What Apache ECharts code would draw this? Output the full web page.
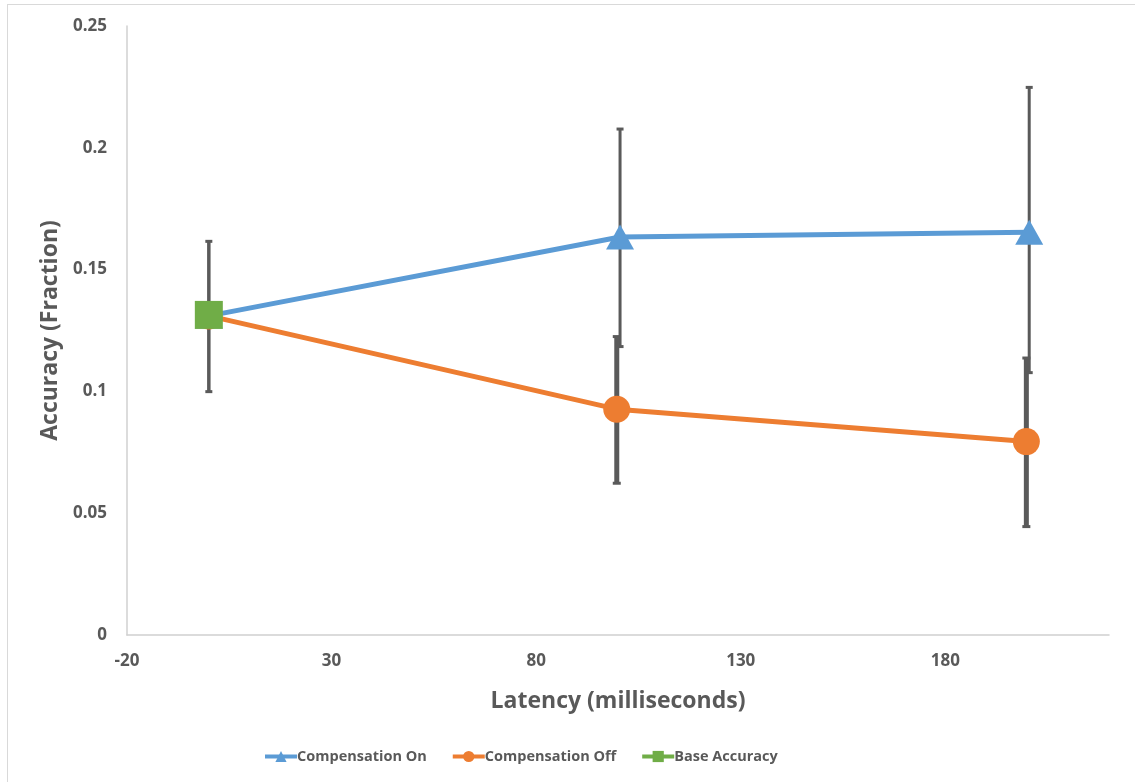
<!DOCTYPE html>
<html>
<head>
<meta charset="utf-8">
<style>
  html, body { margin: 0; padding: 0; background: #fff; }
  #chart { width: 1135px; height: 782px; }
</style>
<script src="https://cdn.jsdelivr.net/npm/echarts@6/dist/echarts.min.js"></script>
</head>
<body>
<div id="chart"></div>
<script>
// ---- data ----
const seriesNames = ['Compensation On', 'Compensation Off', 'Base Accuracy'];
const onX = [0, 100.5, 200.5];
const onY = [0.131, 0.1634, 0.1653];
const onLow = [null, 0.1184, 0.1077];
const onHigh = [null, 0.2077, 0.2248];
const offX = [0, 99.7, 199.8];
const offY = [0.131, 0.0927, 0.0794];
const offLow = [null, 0.0623, 0.0445];
const offHigh = [null, 0.1225, 0.1137];
const baseX = [0];
const baseY = [0.1314];
const baseLow = [0.0999];
const baseHigh = [0.1616];
const xTicks = { min: -20, max: 220, interval: 50 };
const yTicks = { min: 0, max: 0.25, interval: 0.05 };

const FONT = 'Open Sans';
const TXT = '#595959';
const ERR = '#5a5a5a';

function pairs(xs, ys) { return xs.map((x, i) => [x, ys[i]]); }
function errData(xs, lo, hi) {
  const out = [];
  xs.forEach((x, i) => { if (lo[i] != null) out.push([x, lo[i], hi[i]]); });
  return out;
}
function errSeries(data, lw, capW) {
  return {
    type: 'custom',
    silent: true,
    z: 1,
    encode: { x: 0, y: [1, 2] },
    data: data,
    renderItem: function (params, api) {
      const x = api.value(0);
      const lo = api.coord([x, api.value(1)]);
      const hi = api.coord([x, api.value(2)]);
      const st = { stroke: ERR, lineWidth: lw };
      const hw = capW / 2;
      return {
        type: 'group',
        children: [
          { type: 'line', shape: { x1: lo[0], y1: lo[1], x2: hi[0], y2: hi[1] }, style: st },
          { type: 'line', shape: { x1: hi[0] - hw, y1: hi[1], x2: hi[0] + hw, y2: hi[1] }, style: { stroke: ERR, lineWidth: 3 } },
          { type: 'line', shape: { x1: lo[0] - hw, y1: lo[1], x2: lo[0] + hw, y2: lo[1] }, style: { stroke: ERR, lineWidth: 3 } }
        ]
      };
    }
  };
}

const chart = echarts.init(document.getElementById('chart'), null, { renderer: 'canvas' });
chart.setOption({
  animation: false,
  backgroundColor: '#ffffff',
  textStyle: { fontFamily: FONT },
  graphic: [
    { type: 'line', shape: { x1: 7, y1: 4.5, x2: 1135, y2: 4.5 }, style: { stroke: '#d9d9d9', lineWidth: 1 } },
    { type: 'line', shape: { x1: 7.5, y1: 4, x2: 7.5, y2: 782 }, style: { stroke: '#d9d9d9', lineWidth: 1 } }
  ],
  grid: { left: 127, right: 26, top: 26, bottom: 147, containLabel: false },
  legend: {
    data: seriesNames,
    bottom: 13,
    left: 258,
    itemWidth: 32,
    itemHeight: 14,
    itemGap: 24,
    lineStyle: { width: 4 },
    textStyle: { color: TXT, fontSize: 14.5, fontWeight: 'bold', fontFamily: FONT, padding: [0, 0, 0, -5] }
  },
  xAxis: {
    type: 'value',
    min: xTicks.min, max: xTicks.max, interval: xTicks.interval,
    name: 'Latency (milliseconds)',
    nameLocation: 'middle',
    nameGap: 55,
    nameTextStyle: { color: TXT, fontSize: 23, fontWeight: 'bold', fontFamily: FONT },
    axisLine: { show: true, onZero: false, lineStyle: { color: '#d0d0d0', width: 1.5 } },
    axisTick: { show: false },
    splitLine: { show: false },
    axisLabel: { color: TXT, fontSize: 17, fontWeight: 'bold', margin: 18, showMaxLabel: false, fontFamily: FONT }
  },
  yAxis: {
    type: 'value',
    min: yTicks.min, max: yTicks.max, interval: yTicks.interval,
    name: 'Accuracy (Fraction)',
    nameLocation: 'middle',
    nameGap: 64,
    nameTextStyle: { color: TXT, fontSize: 23, fontWeight: 'bold', fontFamily: FONT },
    axisLine: { show: true, onZero: false, lineStyle: { color: '#d0d0d0', width: 1.5 } },
    axisTick: { show: false },
    splitLine: { show: false },
    axisLabel: { color: TXT, fontSize: 17, fontWeight: 'bold', margin: 20, fontFamily: FONT }
  },
  series: [
    errSeries(errData(onX, onLow, onHigh), 3, 7),
    errSeries(errData(offX, offLow, offHigh), 5, 8),
    errSeries(errData(baseX, baseLow, baseHigh), 3.5, 7),
    {
      name: seriesNames[0], type: 'line', z: 3,
      data: pairs(onX, onY),
      symbol: 'triangle', symbolSize: [28, 25],
      lineStyle: { color: '#5b9bd5', width: 5 },
      itemStyle: { color: '#5b9bd5' }
    },
    {
      name: seriesNames[1], type: 'line', z: 3,
      data: pairs(offX, offY),
      symbol: 'circle', symbolSize: 27,
      lineStyle: { color: '#ed7d31', width: 5 },
      itemStyle: { color: '#ed7d31' }
    },
    {
      name: seriesNames[2], type: 'line', z: 4,
      data: pairs(baseX, baseY),
      symbol: 'rect', symbolSize: 28,
      lineStyle: { color: '#70ad47', width: 3 },
      itemStyle: { color: '#70ad47' }
    }
  ]
});
</script>
</body>
</html>
